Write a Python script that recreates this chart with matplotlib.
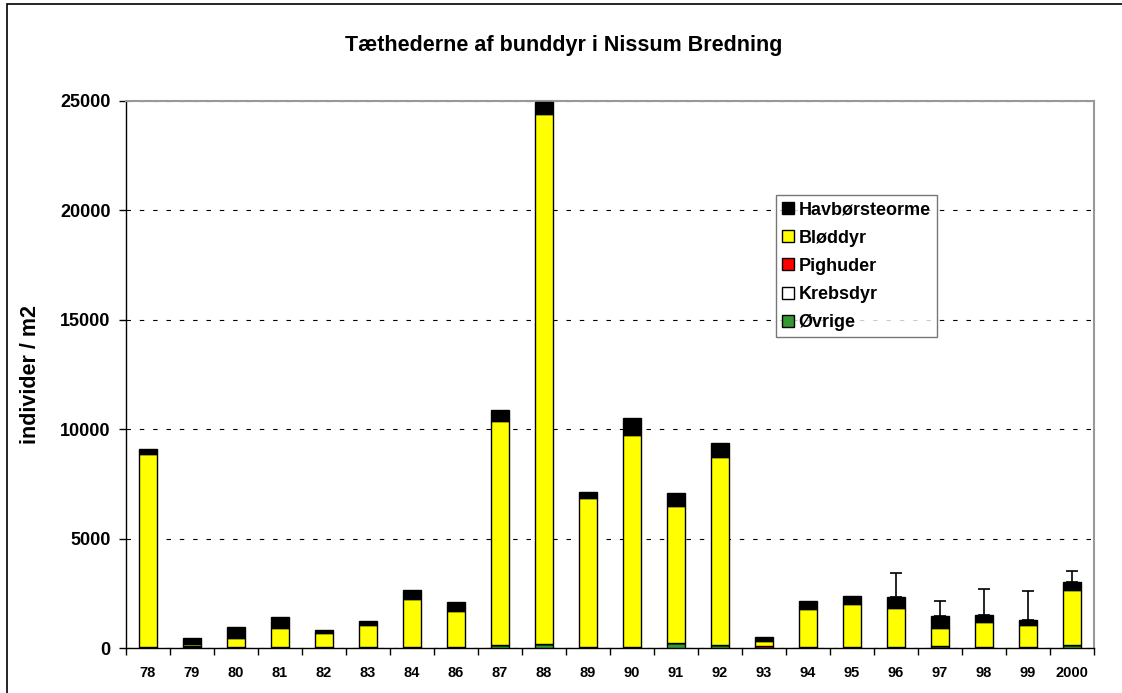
import matplotlib.pyplot as plt
import numpy as np
from matplotlib.patches import Rectangle

plt.rcParams['font.family'] = ['Liberation Sans', 'DejaVu Sans']
plt.rcParams['font.weight'] = 'bold'

years = ['78', '79', '80', '81', '82', '83', '84', '86', '87', '88', '89',
         '90', '91', '92', '93', '94', '95', '96', '97', '98', '99', '2000']
ovrige = [30, 30, 20, 20, 20, 20, 20, 20, 150, 190, 20,
          40, 210, 140, 20, 20, 20, 40, 100, 30, 40, 140]
krebsdyr = [10, 60, 10, 10, 10, 10, 10, 10, 10, 10, 10,
            10, 10, 10, 0, 10, 10, 10, 10, 10, 10, 10]
pighuder = [0, 0, 0, 0, 0, 0, 0, 0, 0, 0, 0,
            0, 0, 0, 80, 0, 0, 0, 0, 0, 0, 0]
bloddyr = [8840, 90, 430, 885, 640, 1020, 2210, 1675, 10210, 24200, 6840,
           9680, 6280, 8580, 200, 1735, 1995, 1760, 800, 1160, 985, 2500]
havborsteorme = [210, 275, 516, 516, 156, 198, 425, 395, 500, 560, 260,
                 760, 594, 622, 182, 398, 351, 505, 562, 306, 228, 379]
err_up = [0, 0, 0, 0, 0, 0, 0, 0, 0, 0, 0,
          0, 0, 0, 0, 0, 0, 1113, 686, 1202, 1326, 470]

series = [('Øvrige', ovrige, '#339933'),
          ('Krebsdyr', krebsdyr, 'white'),
          ('Pighuder', pighuder, '#ff0000'),
          ('Bløddyr', bloddyr, '#ffff00'),
          ('Havbørsteorme', havborsteorme, 'black')]

fig = plt.figure(figsize=(11.22, 6.93), dpi=100)
ax = fig.add_axes([0.1123, 0.0649, 0.8627, 0.7894])

x = np.arange(len(years))
bottom = np.zeros(len(years))
handles = []
for name, vals, col in series:
    b = ax.bar(x, vals, 0.42, bottom=bottom, color=col, edgecolor='black',
               linewidth=1.0, label=name, zorder=3)
    handles.append(b)
    bottom = bottom + np.array(vals)

err = np.array(err_up)
m = err > 0
ax.errorbar(x[m], bottom[m], yerr=[np.zeros(m.sum()), err[m]], fmt='none',
            ecolor='black', elinewidth=1.2, capsize=4, capthick=1.2, zorder=2)

ax.set_xlim(-0.5, len(years) - 0.5)
ax.set_ylim(0, 25000)
ax.set_yticks(np.arange(0, 25001, 5000))
ax.set_xticks(x)
ax.set_xticklabels(years, fontsize=10.5, fontweight='bold')
ax.set_xticks(np.arange(-0.5, len(years), 1), minor=True)
ax.tick_params(axis='x', which='major', length=0, pad=13)
ax.tick_params(axis='x', which='minor', length=5, width=1, direction='out')
ax.tick_params(axis='y', length=5, width=1, direction='out', labelsize=13, pad=6)
for lab in ax.get_yticklabels():
    lab.set_fontweight('bold')

ax.yaxis.grid(True, linestyle=(0, (4, 8)), color='black', linewidth=0.8, zorder=0)
ax.set_axisbelow(True)
ax.spines['top'].set_color('#999999')
ax.spines['right'].set_color('#999999')
ax.spines['top'].set_linewidth(1.5)
ax.spines['right'].set_linewidth(1.5)
ax.spines['left'].set_linewidth(1.0)
ax.spines['bottom'].set_linewidth(1.0)

ax.set_ylabel('individer / m2', fontsize=15.5, fontweight='bold', labelpad=14)
fig.text(0.502, 0.934, 'Tæthederne af bunddyr i Nissum Bredning',
         ha='center', va='center', fontsize=15.5, fontweight='bold')

leg = ax.legend(handles[::-1], [s[0] for s in series][::-1],
                loc='upper left', bbox_to_anchor=(0.6715, 0.828),
                fontsize=13, frameon=True, fancybox=False,
                handlelength=0.65, handleheight=0.65, handletextpad=0.25,
                labelspacing=0.62, borderpad=0.35, borderaxespad=0)
leg.get_frame().set_edgecolor('#555555')
leg.get_frame().set_linewidth(1.0)
for t in leg.get_texts():
    t.set_fontweight('bold')

fig.add_artist(Rectangle((7 / 1122, -0.05), 1.0, 1 - 4 / 693 + 0.05,
                         transform=fig.transFigure, fill=False,
                         edgecolor='black', linewidth=1.2))

fig.savefig('out.png', dpi=100)
